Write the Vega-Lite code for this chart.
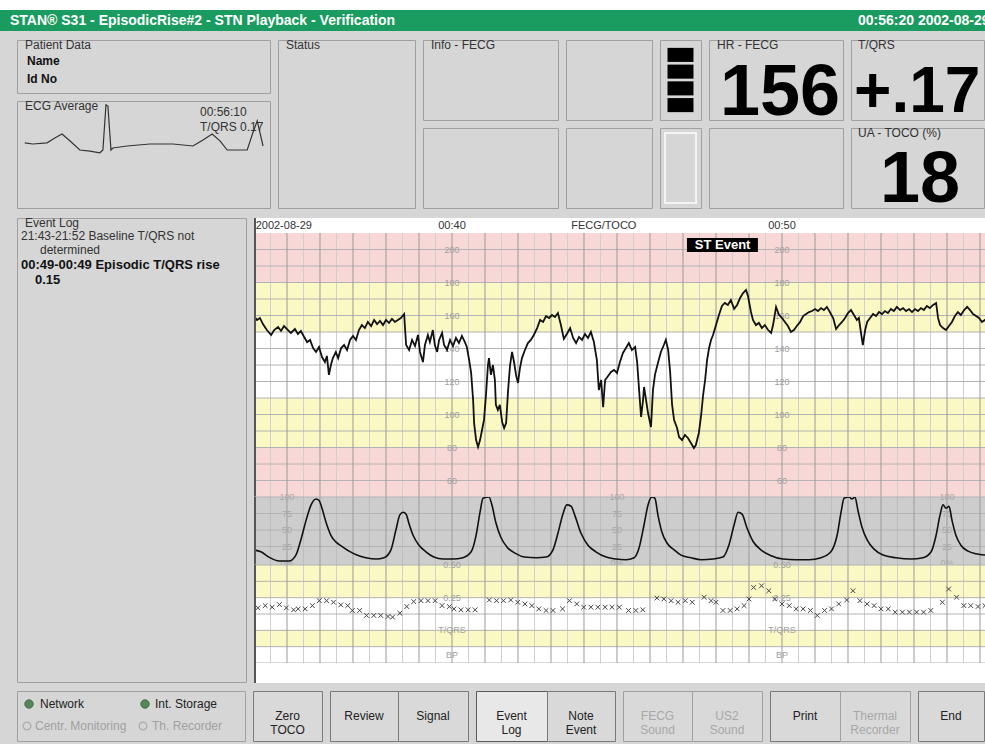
{
"$schema":"https://vega.github.io/schema/vega-lite/v6.json",
"padding":0,
"background":"#d6d6d6",
"spacing":0,
"config":{"view":{"stroke":null},"axis":{"disable":true},"legend":{"disable":true},"font":"Liberation Sans","text":{"font":"Liberation Sans","fontSize":12,"color":"#222222"}},
"datasets":{
"minutes":[{"t":35},{"t":36},{"t":37},{"t":38},{"t":39},{"t":40},{"t":41},{"t":42},{"t":43},{"t":44},{"t":45},{"t":46},{"t":47},{"t":48},{"t":49},{"t":50},{"t":51},{"t":52},{"t":53},{"t":54},{"t":55},{"t":56}],
"halfmin":[{"t":34.5},{"t":35.5},{"t":36.5},{"t":37.5},{"t":38.5},{"t":39.5},{"t":40.5},{"t":41.5},{"t":42.5},{"t":43.5},{"t":44.5},{"t":45.5},{"t":46.5},{"t":47.5},{"t":48.5},{"t":49.5},{"t":50.5},{"t":51.5},{"t":52.5},{"t":53.5},{"t":54.5},{"t":55.5}],
"edge":[{"t":34.03}],
"fhrgrid":[{"v":60},{"v":70},{"v":80},{"v":90},{"v":100},{"v":110},{"v":120},{"v":130},{"v":140},{"v":150},{"v":160},{"v":170},{"v":180},{"v":190},{"v":200}],
"fhrlabels":[{"t":40,"v":200,"label":"200"},{"t":40,"v":180,"label":"180"},{"t":40,"v":160,"label":"160"},{"t":40,"v":140,"label":"140"},{"t":40,"v":120,"label":"120"},{"t":40,"v":100,"label":"100"},{"t":40,"v":80,"label":"80"},{"t":40,"v":60,"label":"60"},{"t":50,"v":200,"label":"200"},{"t":50,"v":180,"label":"180"},{"t":50,"v":160,"label":"160"},{"t":50,"v":140,"label":"140"},{"t":50,"v":120,"label":"120"},{"t":50,"v":100,"label":"100"},{"t":50,"v":80,"label":"80"},{"t":50,"v":60,"label":"60"}],
"tocolabels":[{"t":35,"v":100,"label":"100"},{"t":35,"v":75,"label":"75"},{"t":35,"v":50,"label":"50"},{"t":35,"v":25,"label":"25"},{"t":35,"v":0,"label":"0%"},{"t":45,"v":100,"label":"100"},{"t":45,"v":75,"label":"75"},{"t":45,"v":50,"label":"50"},{"t":45,"v":25,"label":"25"},{"t":45,"v":0,"label":"0%"},{"t":55,"v":100,"label":"100"},{"t":55,"v":75,"label":"75"},{"t":55,"v":50,"label":"50"},{"t":55,"v":25,"label":"25"},{"t":55,"v":0,"label":"0%"}],
"tqrslabels":[{"t":40,"v":0.5,"label":"0.50"},{"t":40,"v":0.25,"label":"0.25"},{"t":40,"v":0,"label":"T/QRS"},{"t":40,"v":-0.19,"label":"BP"},{"t":50,"v":0.5,"label":"0.50"},{"t":50,"v":0.25,"label":"0.25"},{"t":50,"v":0,"label":"T/QRS"},{"t":50,"v":-0.19,"label":"BP"}],
"fhr":[{"t":34.00,"bpm":159.7},{"t":34.09,"bpm":157.3},{"t":34.18,"bpm":158.5},{"t":34.27,"bpm":154.8},{"t":34.39,"bpm":151.2},{"t":34.52,"bpm":148.2},{"t":34.61,"bpm":151.2},{"t":34.73,"bpm":153.0},{"t":34.82,"bpm":150.6},{"t":34.91,"bpm":153.6},{"t":35.03,"bpm":151.2},{"t":35.12,"bpm":149.4},{"t":35.24,"bpm":151.8},{"t":35.33,"bpm":148.8},{"t":35.42,"bpm":150.6},{"t":35.52,"bpm":147.0},{"t":35.61,"bpm":143.9},{"t":35.70,"bpm":145.2},{"t":35.79,"bpm":140.3},{"t":35.88,"bpm":137.9},{"t":35.97,"bpm":140.9},{"t":36.06,"bpm":134.8},{"t":36.15,"bpm":131.8},{"t":36.21,"bpm":135.5},{"t":36.27,"bpm":124.0},{"t":36.33,"bpm":130.0},{"t":36.39,"bpm":134.2},{"t":36.48,"bpm":137.9},{"t":36.55,"bpm":134.2},{"t":36.64,"bpm":140.3},{"t":36.73,"bpm":142.1},{"t":36.82,"bpm":139.1},{"t":36.91,"bpm":145.2},{"t":37.00,"bpm":147.6},{"t":37.09,"bpm":145.2},{"t":37.18,"bpm":151.2},{"t":37.27,"bpm":154.2},{"t":37.36,"bpm":152.4},{"t":37.45,"bpm":156.1},{"t":37.55,"bpm":153.6},{"t":37.64,"bpm":157.3},{"t":37.73,"bpm":154.8},{"t":37.82,"bpm":156.7},{"t":37.91,"bpm":154.2},{"t":38.00,"bpm":157.3},{"t":38.09,"bpm":155.5},{"t":38.18,"bpm":157.9},{"t":38.27,"bpm":156.1},{"t":38.36,"bpm":157.3},{"t":38.45,"bpm":158.5},{"t":38.55,"bpm":160.9},{"t":38.58,"bpm":151.2},{"t":38.61,"bpm":142.1},{"t":38.70,"bpm":139.1},{"t":38.79,"bpm":145.2},{"t":38.88,"bpm":141.5},{"t":38.97,"bpm":148.2},{"t":39.03,"bpm":137.9},{"t":39.12,"bpm":131.8},{"t":39.18,"bpm":142.1},{"t":39.27,"bpm":148.2},{"t":39.33,"bpm":143.9},{"t":39.42,"bpm":151.2},{"t":39.48,"bpm":142.1},{"t":39.55,"bpm":137.9},{"t":39.61,"bpm":145.2},{"t":39.70,"bpm":149.4},{"t":39.76,"bpm":142.1},{"t":39.85,"bpm":139.1},{"t":39.94,"bpm":145.2},{"t":40.03,"bpm":141.5},{"t":40.12,"bpm":146.4},{"t":40.21,"bpm":143.3},{"t":40.30,"bpm":147.6},{"t":40.39,"bpm":143.9},{"t":40.45,"bpm":140.9},{"t":40.52,"bpm":133.0},{"t":40.58,"bpm":125.2},{"t":40.64,"bpm":108.8},{"t":40.67,"bpm":94.8},{"t":40.73,"bpm":84.5},{"t":40.79,"bpm":80.3},{"t":40.85,"bpm":84.5},{"t":40.91,"bpm":90.6},{"t":40.97,"bpm":96.7},{"t":41.03,"bpm":111.8},{"t":41.09,"bpm":130.0},{"t":41.12,"bpm":134.2},{"t":41.18,"bpm":124.0},{"t":41.24,"bpm":130.0},{"t":41.30,"bpm":120.9},{"t":41.33,"bpm":105.8},{"t":41.39,"bpm":102.7},{"t":41.45,"bpm":105.8},{"t":41.52,"bpm":95.5},{"t":41.58,"bpm":91.8},{"t":41.64,"bpm":94.8},{"t":41.70,"bpm":114.8},{"t":41.76,"bpm":130.0},{"t":41.82,"bpm":137.9},{"t":41.88,"bpm":131.8},{"t":41.94,"bpm":124.0},{"t":42.00,"bpm":119.1},{"t":42.06,"bpm":128.2},{"t":42.12,"bpm":134.2},{"t":42.21,"bpm":139.1},{"t":42.30,"bpm":143.3},{"t":42.39,"bpm":145.2},{"t":42.48,"bpm":148.2},{"t":42.58,"bpm":152.4},{"t":42.67,"bpm":157.3},{"t":42.76,"bpm":156.1},{"t":42.85,"bpm":159.7},{"t":42.94,"bpm":158.5},{"t":43.03,"bpm":160.3},{"t":43.12,"bpm":159.1},{"t":43.21,"bpm":161.5},{"t":43.30,"bpm":154.2},{"t":43.39,"bpm":145.8},{"t":43.48,"bpm":148.8},{"t":43.58,"bpm":152.4},{"t":43.67,"bpm":146.4},{"t":43.76,"bpm":143.3},{"t":43.85,"bpm":147.0},{"t":43.94,"bpm":145.2},{"t":44.03,"bpm":148.8},{"t":44.12,"bpm":146.4},{"t":44.21,"bpm":150.0},{"t":44.30,"bpm":143.9},{"t":44.39,"bpm":133.0},{"t":44.45,"bpm":114.8},{"t":44.52,"bpm":120.9},{"t":44.58,"bpm":104.5},{"t":44.64,"bpm":120.9},{"t":44.73,"bpm":123.3},{"t":44.82,"bpm":125.8},{"t":44.91,"bpm":127.0},{"t":45.00,"bpm":125.2},{"t":45.09,"bpm":131.8},{"t":45.18,"bpm":137.3},{"t":45.27,"bpm":140.3},{"t":45.36,"bpm":143.3},{"t":45.45,"bpm":139.1},{"t":45.55,"bpm":140.9},{"t":45.61,"bpm":131.8},{"t":45.67,"bpm":114.8},{"t":45.73,"bpm":98.5},{"t":45.79,"bpm":108.8},{"t":45.82,"bpm":116.7},{"t":45.88,"bpm":108.8},{"t":45.94,"bpm":100.9},{"t":46.03,"bpm":92.4},{"t":46.09,"bpm":114.8},{"t":46.15,"bpm":124.0},{"t":46.24,"bpm":131.2},{"t":46.33,"bpm":137.9},{"t":46.42,"bpm":142.1},{"t":46.48,"bpm":145.2},{"t":46.55,"bpm":139.1},{"t":46.61,"bpm":125.8},{"t":46.67,"bpm":105.8},{"t":46.73,"bpm":96.7},{"t":46.82,"bpm":91.8},{"t":46.88,"bpm":86.4},{"t":46.97,"bpm":84.5},{"t":47.06,"bpm":87.6},{"t":47.15,"bpm":85.8},{"t":47.24,"bpm":82.7},{"t":47.33,"bpm":79.7},{"t":47.39,"bpm":81.5},{"t":47.48,"bpm":88.8},{"t":47.55,"bpm":99.7},{"t":47.61,"bpm":111.8},{"t":47.67,"bpm":120.9},{"t":47.73,"bpm":133.0},{"t":47.79,"bpm":140.3},{"t":47.85,"bpm":145.2},{"t":47.91,"bpm":148.2},{"t":48.00,"bpm":154.2},{"t":48.09,"bpm":160.3},{"t":48.18,"bpm":165.8},{"t":48.27,"bpm":167.6},{"t":48.36,"bpm":166.4},{"t":48.45,"bpm":169.4},{"t":48.55,"bpm":164.0},{"t":48.64,"bpm":166.4},{"t":48.73,"bpm":170.6},{"t":48.82,"bpm":173.6},{"t":48.91,"bpm":175.5},{"t":48.97,"bpm":171.8},{"t":49.06,"bpm":162.1},{"t":49.12,"bpm":157.3},{"t":49.21,"bpm":154.2},{"t":49.30,"bpm":155.5},{"t":49.39,"bpm":152.4},{"t":49.48,"bpm":154.2},{"t":49.58,"bpm":151.2},{"t":49.67,"bpm":149.4},{"t":49.73,"bpm":154.2},{"t":49.82,"bpm":165.2},{"t":49.91,"bpm":160.3},{"t":50.00,"bpm":158.5},{"t":50.09,"bpm":156.1},{"t":50.18,"bpm":153.6},{"t":50.27,"bpm":150.0},{"t":50.36,"bpm":151.2},{"t":50.45,"bpm":153.6},{"t":50.55,"bpm":156.1},{"t":50.64,"bpm":159.7},{"t":50.73,"bpm":160.9},{"t":50.82,"bpm":162.1},{"t":50.91,"bpm":162.7},{"t":51.00,"bpm":163.9},{"t":51.09,"bpm":162.7},{"t":51.18,"bpm":164.5},{"t":51.27,"bpm":163.3},{"t":51.36,"bpm":165.2},{"t":51.45,"bpm":162.1},{"t":51.55,"bpm":158.5},{"t":51.64,"bpm":151.8},{"t":51.73,"bpm":154.2},{"t":51.82,"bpm":156.1},{"t":51.91,"bpm":158.5},{"t":52.00,"bpm":161.5},{"t":52.09,"bpm":163.3},{"t":52.18,"bpm":160.3},{"t":52.27,"bpm":157.3},{"t":52.33,"bpm":158.5},{"t":52.39,"bpm":150.0},{"t":52.45,"bpm":142.1},{"t":52.52,"bpm":151.2},{"t":52.58,"bpm":156.1},{"t":52.67,"bpm":158.5},{"t":52.76,"bpm":160.9},{"t":52.85,"bpm":159.7},{"t":52.94,"bpm":162.1},{"t":53.03,"bpm":160.9},{"t":53.12,"bpm":162.7},{"t":53.21,"bpm":161.5},{"t":53.30,"bpm":163.9},{"t":53.39,"bpm":162.7},{"t":53.48,"bpm":165.2},{"t":53.58,"bpm":163.3},{"t":53.67,"bpm":164.5},{"t":53.76,"bpm":162.7},{"t":53.85,"bpm":163.9},{"t":53.94,"bpm":162.1},{"t":54.03,"bpm":163.9},{"t":54.12,"bpm":162.7},{"t":54.21,"bpm":164.5},{"t":54.30,"bpm":163.3},{"t":54.39,"bpm":165.8},{"t":54.48,"bpm":164.5},{"t":54.58,"bpm":166.4},{"t":54.67,"bpm":167.6},{"t":54.73,"bpm":158.5},{"t":54.79,"bpm":154.2},{"t":54.88,"bpm":152.4},{"t":54.97,"bpm":151.2},{"t":55.06,"bpm":153.6},{"t":55.15,"bpm":156.1},{"t":55.24,"bpm":159.7},{"t":55.33,"bpm":162.1},{"t":55.42,"bpm":160.3},{"t":55.52,"bpm":163.3},{"t":55.61,"bpm":165.2},{"t":55.70,"bpm":163.3},{"t":55.79,"bpm":160.9},{"t":55.88,"bpm":159.7},{"t":55.97,"bpm":158.5},{"t":56.06,"bpm":156.1},{"t":56.15,"bpm":157.3},{"t":56.21,"bpm":155.5}],
"toco":[{"t":34.00,"ua":20},{"t":34.21,"ua":17},{"t":34.45,"ua":9},{"t":34.76,"ua":3},{"t":35.06,"ua":3},{"t":35.27,"ua":12},{"t":35.42,"ua":35},{"t":35.58,"ua":65},{"t":35.73,"ua":88},{"t":35.88,"ua":97},{"t":35.97,"ua":95},{"t":36.06,"ua":83},{"t":36.18,"ua":62},{"t":36.33,"ua":42},{"t":36.48,"ua":32},{"t":36.64,"ua":26},{"t":36.88,"ua":18},{"t":37.12,"ua":12},{"t":37.39,"ua":8},{"t":37.70,"ua":6},{"t":37.94,"ua":8},{"t":38.15,"ua":20},{"t":38.30,"ua":50},{"t":38.42,"ua":73},{"t":38.52,"ua":77},{"t":38.61,"ua":74},{"t":38.70,"ua":59},{"t":38.82,"ua":42},{"t":39.00,"ua":27},{"t":39.21,"ua":17},{"t":39.45,"ua":9},{"t":39.73,"ua":6},{"t":40.03,"ua":6},{"t":40.33,"ua":8},{"t":40.58,"ua":17},{"t":40.73,"ua":42},{"t":40.85,"ua":77},{"t":40.94,"ua":98},{"t":41.12,"ua":100},{"t":41.21,"ua":88},{"t":41.33,"ua":61},{"t":41.48,"ua":39},{"t":41.67,"ua":24},{"t":41.91,"ua":15},{"t":42.21,"ua":9},{"t":42.55,"ua":8},{"t":42.85,"ua":9},{"t":43.06,"ua":20},{"t":43.21,"ua":45},{"t":43.36,"ua":74},{"t":43.48,"ua":88},{"t":43.61,"ua":86},{"t":43.73,"ua":71},{"t":43.91,"ua":45},{"t":44.12,"ua":27},{"t":44.36,"ua":17},{"t":44.67,"ua":9},{"t":44.97,"ua":6},{"t":45.27,"ua":5},{"t":45.52,"ua":8},{"t":45.67,"ua":23},{"t":45.82,"ua":58},{"t":45.94,"ua":88},{"t":46.06,"ua":100},{"t":46.15,"ua":98},{"t":46.24,"ua":73},{"t":46.36,"ua":47},{"t":46.52,"ua":30},{"t":46.73,"ua":20},{"t":46.94,"ua":12},{"t":47.24,"ua":8},{"t":47.55,"ua":5},{"t":47.91,"ua":6},{"t":48.21,"ua":9},{"t":48.39,"ua":27},{"t":48.55,"ua":58},{"t":48.67,"ua":77},{"t":48.79,"ua":74},{"t":48.94,"ua":53},{"t":49.12,"ua":33},{"t":49.36,"ua":20},{"t":49.67,"ua":11},{"t":50.03,"ua":6},{"t":50.42,"ua":5},{"t":50.82,"ua":5},{"t":51.18,"ua":8},{"t":51.48,"ua":17},{"t":51.67,"ua":42},{"t":51.79,"ua":77},{"t":51.88,"ua":98},{"t":52.03,"ua":100},{"t":52.12,"ua":97},{"t":52.21,"ua":100},{"t":52.30,"ua":80},{"t":52.42,"ua":55},{"t":52.58,"ua":35},{"t":52.79,"ua":21},{"t":53.06,"ua":12},{"t":53.45,"ua":8},{"t":53.91,"ua":6},{"t":54.27,"ua":8},{"t":54.52,"ua":17},{"t":54.67,"ua":42},{"t":54.79,"ua":73},{"t":54.88,"ua":88},{"t":54.97,"ua":83},{"t":55.06,"ua":86},{"t":55.15,"ua":65},{"t":55.27,"ua":42},{"t":55.42,"ua":27},{"t":55.64,"ua":18},{"t":55.88,"ua":14},{"t":56.18,"ua":12}],
"tqrs":[{"t":34.12,"r":0.172},{"t":34.34,"r":0.189},{"t":34.55,"r":0.177},{"t":34.77,"r":0.197},{"t":34.98,"r":0.172},{"t":35.20,"r":0.157},{"t":35.34,"r":0.164},{"t":35.55,"r":0.164},{"t":35.77,"r":0.189},{"t":35.98,"r":0.227},{"t":36.20,"r":0.227},{"t":36.41,"r":0.215},{"t":36.63,"r":0.195},{"t":36.84,"r":0.189},{"t":36.98,"r":0.152},{"t":37.20,"r":0.152},{"t":37.41,"r":0.114},{"t":37.63,"r":0.114},{"t":37.84,"r":0.114},{"t":38.06,"r":0.106},{"t":38.20,"r":0.101},{"t":38.42,"r":0.131},{"t":38.63,"r":0.182},{"t":38.84,"r":0.220},{"t":39.06,"r":0.227},{"t":39.27,"r":0.227},{"t":39.49,"r":0.227},{"t":39.70,"r":0.189},{"t":39.92,"r":0.182},{"t":40.06,"r":0.164},{"t":40.27,"r":0.157},{"t":40.49,"r":0.157},{"t":40.70,"r":0.157},{"t":41.13,"r":0.232},{"t":41.35,"r":0.227},{"t":41.56,"r":0.227},{"t":41.78,"r":0.232},{"t":41.99,"r":0.215},{"t":42.21,"r":0.202},{"t":42.42,"r":0.189},{"t":42.63,"r":0.164},{"t":42.85,"r":0.152},{"t":43.06,"r":0.152},{"t":43.35,"r":0.164},{"t":43.56,"r":0.227},{"t":43.78,"r":0.202},{"t":43.99,"r":0.177},{"t":44.21,"r":0.177},{"t":44.42,"r":0.177},{"t":44.64,"r":0.177},{"t":44.85,"r":0.177},{"t":45.07,"r":0.177},{"t":45.35,"r":0.152},{"t":45.57,"r":0.152},{"t":45.78,"r":0.157},{"t":46.21,"r":0.247},{"t":46.42,"r":0.240},{"t":46.64,"r":0.227},{"t":46.85,"r":0.215},{"t":47.07,"r":0.227},{"t":47.28,"r":0.215},{"t":47.64,"r":0.253},{"t":47.85,"r":0.227},{"t":48.00,"r":0.215},{"t":48.21,"r":0.152},{"t":48.43,"r":0.152},{"t":48.64,"r":0.164},{"t":48.85,"r":0.189},{"t":49.00,"r":0.240},{"t":49.14,"r":0.328},{"t":49.38,"r":0.341},{"t":49.60,"r":0.303},{"t":49.78,"r":0.240},{"t":50.00,"r":0.202},{"t":50.22,"r":0.189},{"t":50.43,"r":0.164},{"t":50.64,"r":0.164},{"t":50.86,"r":0.152},{"t":51.07,"r":0.114},{"t":51.29,"r":0.152},{"t":51.50,"r":0.164},{"t":51.72,"r":0.202},{"t":51.96,"r":0.232},{"t":52.15,"r":0.303},{"t":52.36,"r":0.227},{"t":52.58,"r":0.202},{"t":52.79,"r":0.189},{"t":53.00,"r":0.164},{"t":53.22,"r":0.164},{"t":53.43,"r":0.139},{"t":53.65,"r":0.139},{"t":53.86,"r":0.139},{"t":54.08,"r":0.139},{"t":54.29,"r":0.139},{"t":54.51,"r":0.152},{"t":54.86,"r":0.215},{"t":55.05,"r":0.316},{"t":55.29,"r":0.253},{"t":55.51,"r":0.189},{"t":55.72,"r":0.189},{"t":55.94,"r":0.182},{"t":56.15,"r":0.189}],
"ecg":[{"ms":-292,"mv":0.03},{"ms":-263,"mv":0},{"ms":-212,"mv":0.03},{"ms":-184,"mv":0.15},{"ms":-158,"mv":0.25},{"ms":-130,"mv":0.08},{"ms":-94,"mv":-0.15},{"ms":-58,"mv":-0.18},{"ms":-22,"mv":-0.22},{"ms":-11,"mv":-0.15},{"ms":0,"mv":0.98},{"ms":7,"mv":0.95},{"ms":18,"mv":-0.15},{"ms":25,"mv":-0.1},{"ms":76,"mv":-0.05},{"ms":158,"mv":0},{"ms":241,"mv":0},{"ms":313,"mv":-0.05},{"ms":349,"mv":0.1},{"ms":382,"mv":0.25},{"ms":410,"mv":0.08},{"ms":436,"mv":-0.15},{"ms":508,"mv":-0.15},{"ms":526,"mv":0.23},{"ms":544,"mv":0.58},{"ms":554,"mv":0.28},{"ms":565,"mv":-0.05}]
},
"vconcat":[
{"width":985,"height":10,"data":{"values":[{}]},"mark":{"type":"rect","color":"#ffffff"},"encoding":{"x":{"value":0},"x2":{"value":"width"},"y":{"value":0},"y2":{"value":"height"}}},
{"width":985,"height":21,"view":{"fill":"#1a9b5f"},"data":{"values":[{}]},"layer":[
 {"mark":{"type":"text","text":"STAN® S31 - EpisodicRise#2 - STN Playback - Verification","fontWeight":"bold","color":"#ffffff","fontSize":14,"align":"left","baseline":"middle","clip":true},"encoding":{"x":{"value":10},"y":{"value":11}}},
 {"mark":{"type":"text","text":"00:56:20  2002-08-29","fontWeight":"bold","color":"#ffffff","fontSize":14,"align":"left","baseline":"middle","clip":true},"encoding":{"x":{"value":858},"y":{"value":11}}}
]},
{"vconcat":[
 {"width":985,"height":7,"data":{"values":[{}]},"mark":{"type":"rect","opacity":0},"encoding":{"x":{"value":0},"x2":{"value":"width"},"y":{"value":0},"y2":{"value":"height"}}},
 {"hconcat":[
  {"width":10,"height":168,"data":{"values":[{}]},"mark":{"type":"rect","opacity":0},"encoding":{"x":{"value":0},"x2":{"value":"width"},"y":{"value":0},"y2":{"value":"height"}}},
  {"vconcat":[
   {"width":253,"height":53,"view":{"stroke":"#a0a0a0"},"data":{"values":[{}]},"layer":[
    {"mark":{"type":"text","text":"Patient Data","align":"left","baseline":"middle","color":"#333333"},"encoding":{"x":{"value":8},"y":{"value":5}}},
    {"mark":{"type":"text","text":"Name","align":"left","baseline":"middle","fontWeight":"bold","color":"#111111"},"encoding":{"x":{"value":10},"y":{"value":21}}},
    {"mark":{"type":"text","text":"Id No","align":"left","baseline":"middle","fontWeight":"bold","color":"#111111"},"encoding":{"x":{"value":10},"y":{"value":39}}}
   ]},
   {"width":253,"height":107,"view":{"stroke":"#a0a0a0"},"layer":[
    {"data":{"values":[{}]},"mark":{"type":"text","text":"ECG Average","align":"left","baseline":"middle","color":"#333333"},"encoding":{"x":{"value":8},"y":{"value":5}}},
    {"data":{"values":[{}]},"mark":{"type":"text","text":"00:56:10","align":"left","baseline":"middle","color":"#333333"},"encoding":{"x":{"value":183},"y":{"value":11}}},
    {"data":{"values":[{}]},"mark":{"type":"text","text":"T/QRS 0.17","align":"left","baseline":"middle","color":"#333333"},"encoding":{"x":{"value":183},"y":{"value":26}}},
    {"data":{"name":"ecg"},"mark":{"type":"line","color":"#333333","strokeWidth":1.2,"clip":true},"encoding":{"x":{"field":"ms","type":"quantitative","scale":{"domain":[-320,590],"nice":false,"zero":false}},"y":{"field":"mv","type":"quantitative","scale":{"domain":[-1.6,1.075],"nice":false,"zero":false}}}}
   ]}
  ],"spacing":8,"bounds":"flush"},
  {"width":137,"height":168,"view":{"stroke":"#a0a0a0"},"data":{"values":[{}]},"mark":{"type":"text","text":"Status","align":"left","baseline":"middle","color":"#333333"},"encoding":{"x":{"value":8},"y":{"value":5}}},
  {"vconcat":[
   {"width":135,"height":80,"view":{"stroke":"#a0a0a0"},"data":{"values":[{}]},"mark":{"type":"text","text":"Info - FECG","align":"left","baseline":"middle","color":"#333333"},"encoding":{"x":{"value":8},"y":{"value":5}}},
   {"width":135,"height":80,"view":{"stroke":"#a0a0a0"},"data":{"values":[{}]},"mark":{"type":"rect","opacity":0},"encoding":{"x":{"value":0},"x2":{"value":"width"},"y":{"value":0},"y2":{"value":"height"}}}
  ],"spacing":8,"bounds":"flush"},
  {"vconcat":[
   {"width":86,"height":80,"view":{"stroke":"#a0a0a0"},"data":{"values":[{}]},"mark":{"type":"rect","opacity":0},"encoding":{"x":{"value":0},"x2":{"value":"width"},"y":{"value":0},"y2":{"value":"height"}}},
   {"width":86,"height":80,"view":{"stroke":"#a0a0a0"},"data":{"values":[{}]},"mark":{"type":"rect","opacity":0},"encoding":{"x":{"value":0},"x2":{"value":"width"},"y":{"value":0},"y2":{"value":"height"}}}
  ],"spacing":8,"bounds":"flush"},
  {"vconcat":[
   {"width":41,"height":80,"view":{"stroke":"#a0a0a0"},"data":{"values":[{"seg":1},{"seg":2},{"seg":3},{"seg":4}]},"mark":{"type":"rect","color":"#000000"},"encoding":{"y":{"field":"seg","type":"ordinal","scale":{"paddingInner":0.16,"paddingOuter":0.47}},"x":{"datum":"level","type":"nominal","scale":{"paddingInner":0,"paddingOuter":0.29}}}},
   {"width":41,"height":80,"view":{"stroke":"#a0a0a0"},"data":{"values":[{}]},"mark":{"type":"rect","fill":"#d6d6d6","stroke":"#f4f4f4","strokeWidth":2},"encoding":{"y":{"datum":"level","type":"nominal","scale":{"paddingInner":0,"paddingOuter":0.07}},"x":{"datum":"level","type":"nominal","scale":{"paddingInner":0,"paddingOuter":0.16}}}}
  ],"spacing":8,"bounds":"flush"},
  {"vconcat":[
   {"width":134,"height":80,"view":{"stroke":"#a0a0a0"},"data":{"values":[{}]},"layer":[
    {"mark":{"type":"text","text":"HR - FECG","align":"left","baseline":"middle","color":"#333333"},"encoding":{"x":{"value":8},"y":{"value":5}}},
    {"mark":{"type":"text","text":"156","font":"Liberation Sans","fontWeight":"bold","fontSize":72,"align":"center","baseline":"alphabetic","color":"#000000","clip":true},"encoding":{"x":{"value":71},"y":{"value":75}}}
   ]},
   {"width":134,"height":80,"view":{"stroke":"#a0a0a0"},"data":{"values":[{}]},"mark":{"type":"rect","opacity":0},"encoding":{"x":{"value":0},"x2":{"value":"width"},"y":{"value":0},"y2":{"value":"height"}}}
  ],"spacing":8,"bounds":"flush"},
  {"vconcat":[
   {"width":133,"height":80,"view":{"stroke":"#a0a0a0"},"data":{"values":[{}]},"layer":[
    {"mark":{"type":"text","text":"T/QRS","align":"left","baseline":"middle","color":"#333333"},"encoding":{"x":{"value":7},"y":{"value":5}}},
    {"mark":{"type":"text","text":"+.17","font":"Liberation Sans","fontWeight":"bold","fontSize":64,"align":"left","baseline":"alphabetic","color":"#000000","clip":true},"encoding":{"x":{"value":3},"y":{"value":72}}}
   ]},
   {"width":133,"height":80,"view":{"stroke":"#a0a0a0"},"data":{"values":[{}]},"layer":[
    {"mark":{"type":"text","text":"UA - TOCO (%)","align":"left","baseline":"middle","color":"#333333"},"encoding":{"x":{"value":7},"y":{"value":5}}},
    {"mark":{"type":"text","text":"18","font":"Liberation Sans","fontWeight":"bold","fontSize":72,"align":"center","baseline":"alphabetic","color":"#000000","clip":true},"encoding":{"x":{"value":69},"y":{"value":74}}}
   ]}
  ],"spacing":8,"bounds":"flush"}
 ],"spacing":6},
 {"width":985,"height":4,"data":{"values":[{}]},"mark":{"type":"rect","opacity":0},"encoding":{"x":{"value":0},"x2":{"value":"width"},"y":{"value":0},"y2":{"value":"height"}}}
],"spacing":0},
{"vconcat":[
 {"width":985,"height":3,"data":{"values":[{}]},"mark":{"type":"rect","opacity":0},"encoding":{"x":{"value":0},"x2":{"value":"width"},"y":{"value":0},"y2":{"value":"height"}}},
 {"hconcat":[
  {"width":10,"height":465,"data":{"values":[{}]},"mark":{"type":"rect","opacity":0},"encoding":{"x":{"value":0},"x2":{"value":"width"},"y":{"value":0},"y2":{"value":"height"}}},
  {"width":229,"height":464,"view":{"stroke":"#a0a0a0"},"data":{"values":[{}]},"layer":[
   {"mark":{"type":"text","text":"Event Log","align":"left","baseline":"middle","color":"#333333"},"encoding":{"x":{"value":8},"y":{"value":5}}},
   {"mark":{"type":"text","text":"21:43-21:52 Baseline T/QRS not","align":"left","baseline":"middle","color":"#333333"},"encoding":{"x":{"value":4},"y":{"value":18}}},
   {"mark":{"type":"text","text":"determined","align":"left","baseline":"middle","color":"#333333"},"encoding":{"x":{"value":23},"y":{"value":32}}},
   {"mark":{"type":"text","text":"00:49-00:49 Episodic T/QRS rise","align":"left","baseline":"middle","fontWeight":"bold","fontSize":13,"color":"#111111"},"encoding":{"x":{"value":4},"y":{"value":47}}},
   {"mark":{"type":"text","text":"0.15","align":"left","baseline":"middle","fontWeight":"bold","fontSize":13,"color":"#111111"},"encoding":{"x":{"value":18},"y":{"value":62}}}
  ]},
  {"vconcat":[
   {"width":732,"height":15,"view":{"fill":"#ffffff"},"layer":[
    {"data":{"values":[{"t":34.05,"label":"2002-08-29"}]},"mark":{"type":"text","align":"left","baseline":"middle","fontSize":11,"color":"#333333"},"encoding":{"x":{"field":"t","type":"quantitative","scale":{"domain":[34,56.182],"nice":false,"zero":false}},"y":{"value":8},"text":{"field":"label"}}},
    {"data":{"values":[{"t":40,"label":"00:40"},{"t":44.6,"label":"FECG/TOCO"},{"t":50,"label":"00:50"}]},"mark":{"type":"text","align":"center","baseline":"middle","fontSize":11,"color":"#333333"},"encoding":{"x":{"field":"t","type":"quantitative","scale":{"domain":[34,56.182],"nice":false,"zero":false}},"y":{"value":8},"text":{"field":"label"}}},
    {"data":{"name":"edge"},"mark":{"type":"rule","color":"#555555","strokeWidth":2},"encoding":{"x":{"field":"t","type":"quantitative","scale":{"domain":[34,56.182],"nice":false,"zero":false}}}}
   ]},
   {"width":732,"height":264,"layer":[
    {"data":{"values":[{"lo":180,"hi":210,"zone":"alarm"},{"lo":150,"hi":180,"zone":"warning"},{"lo":110,"hi":150,"zone":"normal"},{"lo":80,"hi":110,"zone":"warning"},{"lo":50,"hi":80,"zone":"alarm"}]},"mark":{"type":"rect"},"encoding":{"x":{"datum":34,"type":"quantitative","scale":{"domain":[34,56.182],"nice":false,"zero":false}},"x2":{"datum":56.182},"y":{"field":"lo","type":"quantitative","scale":{"domain":[50,210],"nice":false,"zero":false}},"y2":{"field":"hi"},"color":{"field":"zone","type":"nominal","scale":{"domain":["alarm","warning","normal","uterine"],"range":["#f8d7d7","#faf8c3","#ffffff","#cdcdcd"]}}}},
    {"data":{"name":"halfmin"},"mark":{"type":"rule","color":"#cfcfcf"},"encoding":{"x":{"field":"t","type":"quantitative","scale":{"domain":[34,56.182],"nice":false,"zero":false}}}},
    {"data":{"name":"fhrgrid"},"mark":{"type":"rule","color":"#b4b4b4"},"encoding":{"y":{"field":"v","type":"quantitative","scale":{"domain":[50,210],"nice":false,"zero":false}}}},
    {"data":{"name":"minutes"},"mark":{"type":"rule","color":"#9a9a9a"},"encoding":{"x":{"field":"t","type":"quantitative","scale":{"domain":[34,56.182],"nice":false,"zero":false}}}},
    {"data":{"name":"fhrlabels"},"mark":{"type":"text","color":"#a0a0a0","fontSize":9,"align":"center","baseline":"middle"},"encoding":{"x":{"field":"t","type":"quantitative","scale":{"domain":[34,56.182],"nice":false,"zero":false}},"y":{"field":"v","type":"quantitative","scale":{"domain":[50,210],"nice":false,"zero":false}},"text":{"field":"label"}}},
    {"data":{"values":[{"t0":47.12,"t1":49.27,"b0":198.5,"b1":207.0}]},"mark":{"type":"rect","color":"#000000"},"encoding":{"x":{"field":"t0","type":"quantitative","scale":{"domain":[34,56.182],"nice":false,"zero":false}},"x2":{"field":"t1"},"y":{"field":"b0","type":"quantitative","scale":{"domain":[50,210],"nice":false,"zero":false}},"y2":{"field":"b1"}}},
    {"data":{"values":[{"t":48.2,"bpm":202.7,"label":"ST Event"}]},"mark":{"type":"text","color":"#ffffff","fontWeight":"bold","fontSize":13,"align":"center","baseline":"middle"},"encoding":{"x":{"field":"t","type":"quantitative","scale":{"domain":[34,56.182],"nice":false,"zero":false}},"y":{"field":"bpm","type":"quantitative","scale":{"domain":[50,210],"nice":false,"zero":false}},"text":{"field":"label"}}},
    {"data":{"name":"fhr"},"mark":{"type":"line","color":"#111111","strokeWidth":1.8,"clip":true},"encoding":{"x":{"field":"t","type":"quantitative","scale":{"domain":[34,56.182],"nice":false,"zero":false}},"y":{"field":"bpm","type":"quantitative","scale":{"domain":[50,210],"nice":false,"zero":false}}}},
    {"data":{"name":"edge"},"mark":{"type":"rule","color":"#555555","strokeWidth":2},"encoding":{"x":{"field":"t","type":"quantitative","scale":{"domain":[34,56.182],"nice":false,"zero":false}}}}
   ]},
   {"width":732,"height":68,"layer":[
    {"data":{"values":[{"lo":-3,"hi":100,"zone":"uterine"}]},"mark":{"type":"rect"},"encoding":{"x":{"datum":34,"type":"quantitative","scale":{"domain":[34,56.182],"nice":false,"zero":false}},"x2":{"datum":56.182},"y":{"field":"lo","type":"quantitative","scale":{"domain":[-3,100],"nice":false,"zero":false}},"y2":{"field":"hi"},"color":{"field":"zone","type":"nominal","scale":{"domain":["alarm","warning","normal","uterine"],"range":["#f8d7d7","#faf8c3","#ffffff","#cdcdcd"]}}}},
    {"data":{"name":"halfmin"},"mark":{"type":"rule","color":"#bdbdbd"},"encoding":{"x":{"field":"t","type":"quantitative","scale":{"domain":[34,56.182],"nice":false,"zero":false}}}},
    {"data":{"values":[{"v":25},{"v":50},{"v":75},{"v":100}]},"mark":{"type":"rule","color":"#b4b4b4"},"encoding":{"y":{"field":"v","type":"quantitative","scale":{"domain":[-3,100],"nice":false,"zero":false}}}},
    {"data":{"name":"minutes"},"mark":{"type":"rule","color":"#9a9a9a"},"encoding":{"x":{"field":"t","type":"quantitative","scale":{"domain":[34,56.182],"nice":false,"zero":false}}}},
    {"data":{"name":"tocolabels"},"mark":{"type":"text","color":"#a8a8a8","fontSize":9,"align":"center","baseline":"middle"},"encoding":{"x":{"field":"t","type":"quantitative","scale":{"domain":[34,56.182],"nice":false,"zero":false}},"y":{"field":"v","type":"quantitative","scale":{"domain":[-3,100],"nice":false,"zero":false}},"text":{"field":"label"}}},
    {"data":{"name":"toco"},"mark":{"type":"line","color":"#111111","strokeWidth":1.6,"interpolate":"monotone","clip":true},"encoding":{"x":{"field":"t","type":"quantitative","scale":{"domain":[34,56.182],"nice":false,"zero":false}},"y":{"field":"ua","type":"quantitative","scale":{"domain":[-3,100],"nice":false,"zero":false}}}},
    {"data":{"name":"edge"},"mark":{"type":"rule","color":"#555555","strokeWidth":2},"encoding":{"x":{"field":"t","type":"quantitative","scale":{"domain":[34,56.182],"nice":false,"zero":false}}}}
   ]},
   {"width":732,"height":98,"layer":[
    {"data":{"values":[{"lo":0.25,"hi":0.5,"zone":"warning"},{"lo":0,"hi":0.25,"zone":"normal"},{"lo":-0.125,"hi":0,"zone":"warning"},{"lo":-0.25,"hi":-0.125,"zone":"normal"}]},"mark":{"type":"rect"},"encoding":{"x":{"datum":34,"type":"quantitative","scale":{"domain":[34,56.182],"nice":false,"zero":false}},"x2":{"datum":56.182},"y":{"field":"lo","type":"quantitative","scale":{"domain":[-0.25,0.5],"nice":false,"zero":false}},"y2":{"field":"hi"},"color":{"field":"zone","type":"nominal","scale":{"domain":["alarm","warning","normal","uterine"],"range":["#f8d7d7","#faf8c3","#ffffff","#cdcdcd"]}}}},
    {"data":{"name":"halfmin"},"mark":{"type":"rule","color":"#cfcfcf"},"encoding":{"x":{"field":"t","type":"quantitative","scale":{"domain":[34,56.182],"nice":false,"zero":false}}}},
    {"data":{"values":[{"v":0.5},{"v":0.375},{"v":0.25},{"v":0.125},{"v":0},{"v":-0.125},{"v":-0.25}]},"mark":{"type":"rule","color":"#b4b4b4"},"encoding":{"y":{"field":"v","type":"quantitative","scale":{"domain":[-0.25,0.5],"nice":false,"zero":false}}}},
    {"data":{"name":"minutes"},"mark":{"type":"rule","color":"#9a9a9a"},"encoding":{"x":{"field":"t","type":"quantitative","scale":{"domain":[34,56.182],"nice":false,"zero":false}}}},
    {"data":{"name":"tqrslabels"},"mark":{"type":"text","color":"#a0a0a0","fontSize":9,"align":"center","baseline":"middle"},"encoding":{"x":{"field":"t","type":"quantitative","scale":{"domain":[34,56.182],"nice":false,"zero":false}},"y":{"field":"v","type":"quantitative","scale":{"domain":[-0.25,0.5],"nice":false,"zero":false}},"text":{"field":"label"}}},
    {"data":{"name":"tqrs"},"mark":{"type":"point","shape":"M-1,-1L1,1M-1,1L1,-1","filled":false,"size":22,"strokeWidth":1,"color":"#444444","opacity":1,"clip":true},"encoding":{"x":{"field":"t","type":"quantitative","scale":{"domain":[34,56.182],"nice":false,"zero":false}},"y":{"field":"r","type":"quantitative","scale":{"domain":[-0.25,0.5],"nice":false,"zero":false}}}},
    {"data":{"name":"edge"},"mark":{"type":"rule","color":"#555555","strokeWidth":2},"encoding":{"x":{"field":"t","type":"quantitative","scale":{"domain":[34,56.182],"nice":false,"zero":false}}}}
   ]},
   {"width":732,"height":20,"view":{"fill":"#ffffff"},"layer":[
    {"data":{"name":"edge"},"mark":{"type":"rule","color":"#555555","strokeWidth":2},"encoding":{"x":{"field":"t","type":"quantitative","scale":{"domain":[34,56.182],"nice":false,"zero":false}}}}
   ]}
  ],"spacing":0,"bounds":"flush"}
 ],"spacing":6}
],"spacing":0},
{"vconcat":[
 {"width":985,"height":6,"data":{"values":[{}]},"mark":{"type":"rect","opacity":0},"encoding":{"x":{"value":0},"x2":{"value":"width"},"y":{"value":0},"y2":{"value":"height"}}},
 {"hconcat":[
  {"width":10,"height":50,"data":{"values":[{}]},"mark":{"type":"rect","opacity":0},"encoding":{"x":{"value":0},"x2":{"value":"width"},"y":{"value":0},"y2":{"value":"height"}}},
  {"width":228,"height":50,"view":{"stroke":"#a0a0a0"},"data":{"values":[{}]},"layer":[
   {"mark":{"type":"point","filled":true,"size":70,"color":"#1d6b1d","stroke":"#0d3d0d","strokeWidth":1},"encoding":{"x":{"value":12},"y":{"value":13}}},
   {"mark":{"type":"point","filled":true,"size":70,"color":"#1d6b1d","stroke":"#0d3d0d","strokeWidth":1},"encoding":{"x":{"value":128},"y":{"value":13}}},
   {"mark":{"type":"point","filled":false,"size":60,"color":"#9a9a9a","strokeWidth":1.2},"encoding":{"x":{"value":10},"y":{"value":35}}},
   {"mark":{"type":"point","filled":false,"size":60,"color":"#9a9a9a","strokeWidth":1.2},"encoding":{"x":{"value":126},"y":{"value":35}}},
   {"mark":{"type":"text","text":"Network","align":"left","baseline":"middle","color":"#222222"},"encoding":{"x":{"value":23},"y":{"value":13}}},
   {"mark":{"type":"text","text":"Int. Storage","align":"left","baseline":"middle","color":"#222222"},"encoding":{"x":{"value":138},"y":{"value":13}}},
   {"mark":{"type":"text","text":"Centr. Monitoring","align":"left","baseline":"middle","color":"#a0a0a0"},"encoding":{"x":{"value":18},"y":{"value":35}}},
   {"mark":{"type":"text","text":"Th. Recorder","align":"left","baseline":"middle","color":"#a0a0a0"},"encoding":{"x":{"value":135},"y":{"value":35}}}
  ]},
  {"width":69,"height":50,"view":{"stroke":"#7a7a7a","fill":"#d9d9d9"},"data":{"values":[{}]},"mark":{"type":"text","text":["Zero","TOCO"],"align":"center","baseline":"middle","lineHeight":14,"color":"#222222"},"encoding":{"x":{"value":34.5},"y":{"value":25}}},
  {"hconcat":[
   {"width":68,"height":50,"view":{"stroke":"#7a7a7a","fill":"#d9d9d9"},"data":{"values":[{}]},"mark":{"type":"text","text":"Review","align":"center","baseline":"middle","color":"#222222"},"encoding":{"x":{"value":34},"y":{"value":25}}},
   {"width":70,"height":50,"view":{"stroke":"#7a7a7a","fill":"#d9d9d9"},"data":{"values":[{}]},"mark":{"type":"text","text":"Signal","align":"center","baseline":"middle","color":"#222222"},"encoding":{"x":{"value":35},"y":{"value":25}}}
  ],"spacing":0,"bounds":"flush"},
  {"hconcat":[
   {"width":71,"height":50,"view":{"stroke":"#5a5a5a","fill":"#e8e8e8"},"data":{"values":[{}]},"mark":{"type":"text","text":["Event","Log"],"align":"center","baseline":"middle","lineHeight":14,"color":"#222222"},"encoding":{"x":{"value":35.5},"y":{"value":25}}},
   {"width":68,"height":50,"view":{"stroke":"#7a7a7a","fill":"#d9d9d9"},"data":{"values":[{}]},"mark":{"type":"text","text":["Note","Event"],"align":"center","baseline":"middle","lineHeight":14,"color":"#222222"},"encoding":{"x":{"value":34},"y":{"value":25}}}
  ],"spacing":0,"bounds":"flush"},
  {"hconcat":[
   {"width":69,"height":50,"view":{"stroke":"#a0a0a0","fill":"#d9d9d9"},"data":{"values":[{}]},"mark":{"type":"text","text":["FECG","Sound"],"align":"center","baseline":"middle","lineHeight":14,"color":"#a8a8a8"},"encoding":{"x":{"value":34.5},"y":{"value":25}}},
   {"width":70,"height":50,"view":{"stroke":"#a0a0a0","fill":"#d9d9d9"},"data":{"values":[{}]},"mark":{"type":"text","text":["US2","Sound"],"align":"center","baseline":"middle","lineHeight":14,"color":"#a8a8a8"},"encoding":{"x":{"value":35},"y":{"value":25}}}
  ],"spacing":0,"bounds":"flush"},
  {"hconcat":[
   {"width":70,"height":50,"view":{"stroke":"#7a7a7a","fill":"#d9d9d9"},"data":{"values":[{}]},"mark":{"type":"text","text":"Print","align":"center","baseline":"middle","color":"#222222"},"encoding":{"x":{"value":35},"y":{"value":25}}},
   {"width":70,"height":50,"view":{"stroke":"#a0a0a0","fill":"#d9d9d9"},"data":{"values":[{}]},"mark":{"type":"text","text":["Thermal","Recorder"],"align":"center","baseline":"middle","lineHeight":14,"color":"#a8a8a8"},"encoding":{"x":{"value":35},"y":{"value":25}}}
  ],"spacing":0,"bounds":"flush"},
  {"width":66,"height":50,"view":{"stroke":"#7a7a7a","fill":"#d9d9d9"},"data":{"values":[{}]},"mark":{"type":"text","text":"End","align":"center","baseline":"middle","color":"#222222"},"encoding":{"x":{"value":33},"y":{"value":25}}}
 ],"spacing":6},
 {"width":985,"height":3,"data":{"values":[{}]},"mark":{"type":"rect","opacity":0},"encoding":{"x":{"value":0},"x2":{"value":"width"},"y":{"value":0},"y2":{"value":"height"}}}
],"spacing":0}
]
}
